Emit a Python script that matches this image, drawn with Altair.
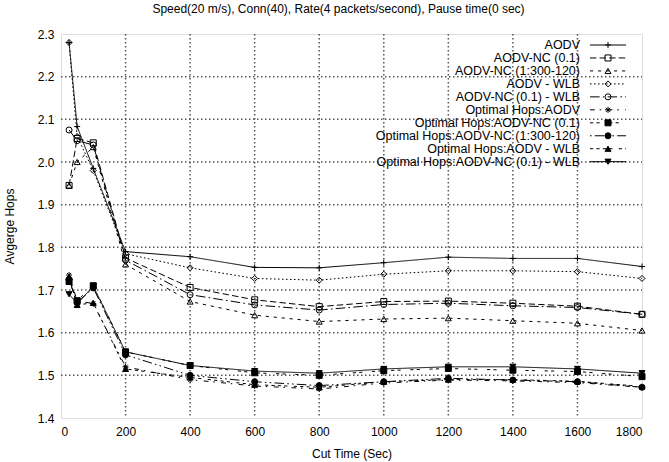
import altair as alt
import pandas as pd

FONT = "Liberation Sans"

cut_time = [25, 50, 100, 200, 400, 600, 800, 1000, 1200, 1400, 1600, 1800]

series_names = [
    "AODV",
    "AODV-NC (0.1)",
    "AODV-NC (1:300-120)",
    "AODV - WLB",
    "AODV-NC (0.1) - WLB",
    "Optimal Hops:AODV",
    "Optimal Hops:AODV-NC (0.1)",
    "Optimal Hops:AODV-NC (1:300-120)",
    "Optimal Hops:AODV - WLB",
    "Optimal Hops:AODV-NC (0.1) - WLB",
]

aodv = [2.28, 2.083, 1.985, 1.79, 1.778, 1.753, 1.752, 1.764, 1.777, 1.774, 1.774, 1.755]
aodv_nc01 = [1.945, 2.055, 2.045, 1.775, 1.706, 1.677, 1.661, 1.673, 1.674, 1.669, 1.662, 1.643]
aodv_nc1300 = [1.945, 2.0, 2.035, 1.76, 1.673, 1.641, 1.626, 1.632, 1.634, 1.628, 1.622, 1.605]
aodv_wlb = [2.28, 2.06, 1.98, 1.785, 1.752, 1.727, 1.723, 1.737, 1.745, 1.745, 1.743, 1.727]
aodv_nc01_wlb = [2.075, 2.05, 2.04, 1.77, 1.689, 1.665, 1.653, 1.666, 1.669, 1.663, 1.659, 1.643]
opt_aodv = [1.735, 1.675, 1.668, 1.52, 1.49, 1.475, 1.468, 1.482, 1.489, 1.487, 1.483, 1.472]
opt_nc01 = [1.72, 1.675, 1.71, 1.555, 1.523, 1.506, 1.5, 1.511, 1.516, 1.512, 1.509, 1.497]
opt_nc1300 = [1.725, 1.67, 1.705, 1.548, 1.5, 1.485, 1.476, 1.485, 1.493, 1.489, 1.485, 1.472]
opt_wlb = [1.73, 1.665, 1.67, 1.515, 1.495, 1.478, 1.472, 1.485, 1.49, 1.49, 1.486, 1.474]
opt_nc01_wlb = [1.69, 1.668, 1.709, 1.555, 1.523, 1.51, 1.505, 1.515, 1.52, 1.52, 1.515, 1.505]

x_ticks = [0, 200, 400, 600, 800, 1000, 1200, 1400, 1600, 1800]
y_ticks = [1.4, 1.5, 1.6, 1.7, 1.8, 1.9, 2.0, 2.1, 2.2, 2.3]

all_values = [aodv, aodv_nc01, aodv_nc1300, aodv_wlb, aodv_nc01_wlb,
              opt_aodv, opt_nc01, opt_nc1300, opt_wlb, opt_nc01_wlb]

rows = []
for name, vals in zip(series_names, all_values):
    for t, v in zip(cut_time, vals):
        rows.append({"series": name, "cut": t, "hops": v})
df = pd.DataFrame(rows)

legend_df = pd.DataFrame({"series": series_names, "idx": list(range(len(series_names)))})
xgrid_df = pd.DataFrame({"gx": x_ticks[1:-1]})
ygrid_df = pd.DataFrame({"gy": y_ticks[1:-1]})

# gnuplot-style monochrome dash patterns (cycling back to solid for the 10th)
d = 1.6
dashes = [
    [1, 0],
    [4 * d, 2 * d],
    [2 * d, 3 * d],
    [1 * d, 1.5 * d],
    [6 * d, 2 * d, 1 * d, 2 * d],
    [3 * d, 3 * d, 1 * d, 4 * d],
    [2 * d, 2 * d, 2 * d, 6 * d],
    [1 * d, 2 * d, 6 * d, 2 * d, 1 * d, 2 * d],
    [2 * d, 2 * d, 2 * d, 2 * d, 2 * d, 2 * d, 2 * d, 4 * d],
    [1, 0],
]
plus_path = "M-1,0L1,0M0,-1L0,1"
star_path = "M-1,0L1,0M0,-1L0,1M-0.7,-0.7L0.7,0.7M-0.7,0.7L0.7,-0.7"
shapes = [plus_path, "square", "triangle-up", "diamond", "circle",
          star_path, "square", "circle", "triangle-up", "triangle-down"]
fills = ["transparent"] * 6 + ["black"] * 4

dash_scale = alt.Scale(domain=series_names, range=dashes)
shape_scale = alt.Scale(domain=series_names, range=shapes)
fill_scale = alt.Scale(domain=series_names, range=fills)
x_scale = alt.Scale(domain=[0, 1800], nice=False)
y_scale = alt.Scale(domain=[1.4, 2.3], nice=False)

axis_style = dict(grid=False, ticks=False, domain=False,
                  labelFont=FONT, labelFontSize=12, labelColor="black",
                  titleFont=FONT, titleFontSize=12, titleFontWeight="normal",
                  titleColor="black")

x_enc = alt.X("cut:Q", title="Cut Time (Sec)", scale=x_scale,
              axis=alt.Axis(values=x_ticks, format="d",
                            labelPadding=8, titlePadding=11, **axis_style))
y_enc = alt.Y("hops:Q", title="Avgerge Hops", scale=y_scale,
              axis=alt.Axis(values=y_ticks, format=".1f",
                            labelPadding=7, titlePadding=21, **axis_style))
y_plain = alt.Y("hops:Q", scale=y_scale, axis=None)

# dotted grid
grid_style = dict(color="#555555", strokeWidth=1.5, strokeDash=[1.5, 2.5])
grid_x = alt.Chart(xgrid_df).mark_rule(**grid_style).encode(
    x=alt.X("gx:Q", scale=x_scale),
    y=alt.value(0), y2=alt.value(384))
grid_y = alt.Chart(ygrid_df).mark_rule(**grid_style).encode(
    y=alt.Y("gy:Q", scale=y_scale, axis=None),
    x=alt.value(0), x2=alt.value(581))

lines = alt.Chart(df).mark_line(color="black", strokeWidth=1).encode(
    x=x_enc, y=y_enc,
    strokeDash=alt.StrokeDash("series:N", scale=dash_scale, legend=None),
)

points = alt.Chart(df).mark_point(filled=True, stroke="black", strokeWidth=1,
                                  size=36, opacity=1).encode(
    x="cut:Q", y=y_plain,
    shape=alt.Shape("series:N", scale=shape_scale, legend=None),
    fill=alt.Fill("series:N", scale=fill_scale, legend=None),
)

# key box in the upper right: label, sample line, marker
leg_y = alt.Y("idx:Q", scale=alt.Scale(domain=[0, 9], range=[11, 127.7]), axis=None)

leg_text = alt.Chart(legend_df).mark_text(align="right", baseline="middle",
                                          font=FONT, fontSize=12.5, color="black").encode(
    x=alt.value(519), y=leg_y, text="series:N")

leg_rule = alt.Chart(legend_df).mark_rule(color="black", strokeWidth=1).encode(
    x=alt.value(529), x2=alt.value(565), y=leg_y,
    strokeDash=alt.StrokeDash("series:N", scale=dash_scale, legend=None))

leg_pts = alt.Chart(legend_df).mark_point(filled=True, stroke="black", strokeWidth=1,
                                          size=36, opacity=1).encode(
    x=alt.value(547), y=leg_y,
    shape=alt.Shape("series:N", scale=shape_scale, legend=None),
    fill=alt.Fill("series:N", scale=fill_scale, legend=None))

chart = alt.layer(grid_x, grid_y, lines, points, leg_rule, leg_pts, leg_text).resolve_scale(
    y="independent"
).properties(
    width=581, height=384,
    title=alt.TitleParams(
        "Speed(20 m/s), Conn(40), Rate(4 packets/second), Pause time(0 sec)",
        font=FONT, fontSize=12, fontWeight="normal", color="black",
        anchor="middle", dx=-13, offset=12),
    autosize=alt.AutoSizeParams(type="none"),
    padding={"left": 61, "top": 34, "right": 27, "bottom": 44},
).configure_view(
    stroke="black", strokeWidth=1
).configure(background="white")

chart.save("out.html", embed_options={"renderer": "svg", "actions": False})
